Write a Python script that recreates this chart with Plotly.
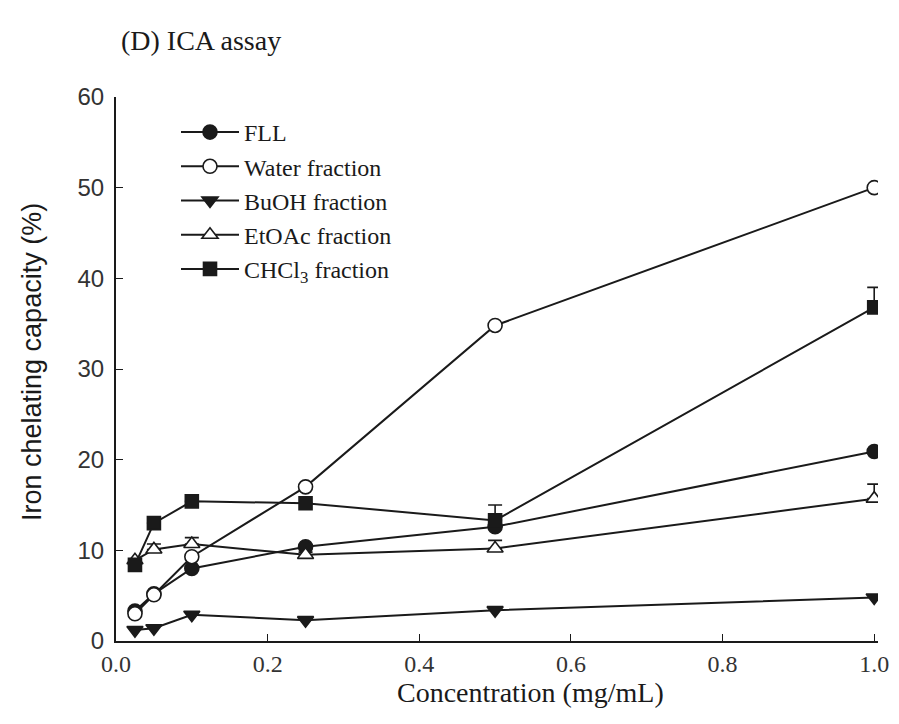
import plotly.graph_objects as go

conc = [0.025, 0.05, 0.1, 0.25, 0.5, 1.0]

fll = [3.3, 5.2, 8.0, 10.4, 12.6, 20.9]
water = [3.0, 5.1, 9.3, 17.0, 34.8, 50.0]
buoh = [1.2, 1.4, 2.9, 2.3, 3.4, 4.8]
etoac = [8.9, 10.1, 10.7, 9.5, 10.2, 15.7]
chcl3 = [8.4, 13.0, 15.4, 15.2, 13.3, 36.8]

etoac_err = [0.0, 0.6, 0.7, 0.3, 0.9, 1.6]
chcl3_err = [0.0, 0.0, 0.0, 0.0, 1.7, 2.2]

series_names = ["FLL", "Water fraction", "BuOH fraction", "EtOAc fraction", "CHCl<sub>3</sub> fraction"]
x_ticks = [0, 0.2, 0.4, 0.6, 0.8, 1.0]
x_ticktext = ["0.0", "0.2", "0.4", "0.6", "0.8", "1.0"]
y_ticks = [0, 10, 20, 30, 40, 50, 60]

serif = "Liberation Serif, Times New Roman, serif"
sans = "Liberation Sans, Arial, sans-serif"
ink = "#1a1a1a"

fig = go.Figure()

def add(y, name, symbol, fill, size, err=None):
    kw = {}
    if err is not None:
        kw["error_y"] = dict(type="data", array=err, arrayminus=[0] * len(err), symmetric=False,
                             color=ink, thickness=1.6, width=7)
    fig.add_trace(go.Scatter(
        x=conc, y=y, name=name, mode="lines+markers",
        line=dict(color=ink, width=2),
        marker=dict(symbol=symbol, size=size, color=fill, line=dict(color=ink, width=1.6)),
        **kw))

add(fll, series_names[0], "circle", ink, 14)
add(water, series_names[1], "circle", "white", 14)
add(buoh, series_names[2], "triangle-down", ink, 14)
add(etoac, series_names[3], "triangle-up", "white", 14, etoac_err)
add(chcl3, series_names[4], "square", ink, 13, chcl3_err)

L, T, R, B = 108, 89, 13, 75
W, H = 883, 708
pw = W - L - R
ph = H - T - B

def px(sx):
    return (sx - 8 - L) / pw

def py(sy):
    return (H - B - (sy - 8)) / ph

fig.update_layout(
    width=W, height=H,
    margin=dict(l=L, r=R, t=T, b=B, autoexpand=False),
    paper_bgcolor="white", plot_bgcolor="white",
    showlegend=True,
    legend=dict(x=px(176), y=py(110), xanchor="left", yanchor="top",
                font=dict(family=serif, size=24, color=ink),
                bgcolor="rgba(0,0,0,0)", tracegroupgap=0, itemwidth=58),
    annotations=[
        dict(text="(D) ICA assay", x=px(201), y=py(40), xref="paper", yref="paper",
             xanchor="center", yanchor="middle", showarrow=False,
             font=dict(family=serif, size=28, color=ink)),
        dict(text="Iron chelating capacity (%)", x=px(32), y=py(362), xref="paper", yref="paper",
             xanchor="center", yanchor="middle", showarrow=False, textangle=-90,
             font=dict(family=sans, size=27, color=ink)),
        dict(text="Concentration (mg/mL)", x=px(530), y=py(692), xref="paper", yref="paper",
             xanchor="center", yanchor="middle", showarrow=False,
             font=dict(family=serif, size=28, color=ink)),
    ],
)

fig.update_xaxes(
    range=[0, 1.005], tickvals=x_ticks, ticktext=x_ticktext, automargin=False,
    ticks="inside", ticklen=7, tickcolor=ink, tickwidth=1.4,
    showline=True, linecolor=ink, linewidth=2.2, showgrid=False, zeroline=False,
    tickfont=dict(family=serif, size=24, color="#333"),
)
fig.update_yaxes(
    range=[0, 60], tickvals=y_ticks, automargin=False, ticklabelstandoff=5,
    ticks="inside", ticklen=7, tickcolor=ink, tickwidth=1.4,
    showline=True, linecolor=ink, linewidth=2.2, showgrid=False, zeroline=False,
    tickfont=dict(family=sans, size=24, color="#333"),
)

fig.write_html("out.html")
